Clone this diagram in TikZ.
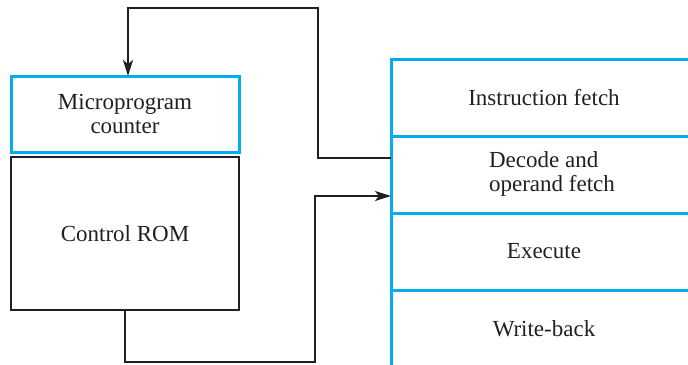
\documentclass[tikz,border=0pt]{standalone}
\usepackage{fontspec}
\setmainfont{Liberation Serif}
\usepackage{xcolor}
\usetikzlibrary{arrows.meta, positioning, calc}
\definecolor{stageblue}{HTML}{00AEEF}
\definecolor{inkblack}{HTML}{231F20}
\tikzstyle{ctrlbox} = [draw=inkblack, rectangle, line width=1.1pt, outer sep=0pt, inner sep=0pt, minimum width=114pt, text centered, align=center, text=inkblack, font=\fontsize{11.5}{12}\selectfont]
\tikzstyle{counterbox} = [ctrlbox, draw=stageblue, line width=1.5pt]
\tikzstyle{stagebox} = [draw=stageblue, rectangle, line width=1.5pt, outer sep=0pt, inner sep=0pt, minimum width=153pt, minimum height=38.5pt, align=center, text=inkblack, font=\fontsize{11.5}{12}\selectfont]
\tikzstyle{arrw} = [line width=1.1pt, color=inkblack, -{Stealth[length=8pt, width=5pt, inset=2pt]}]

\begin{document}
\begin{tikzpicture}[x=0.5pt, y=-0.5pt]
    \useasboundingbox (0,0) rectangle (688,364);
    \clip (0,0) rectangle (688,364);

    % Control unit
    \node (counter) [counterbox, minimum height=38pt] at (125,114) {Microprogram\\counter};
    \node (rom) [ctrlbox, minimum height=76.5pt, below=2.5pt of counter] {Control ROM};

    % Pipeline stages
    \node (fetch) [stagebox, minimum height=38.5pt] at (544,97.5) {Instruction fetch};
    \node (decode) [stagebox, below=0pt of fetch] {\hspace*{8pt}\begin{tabular}{@{}l@{}}Decode and\\operand fetch\end{tabular}};
    \node (exec) [stagebox, below=0pt of decode] {Execute};
    \node (wback) [stagebox, below=0pt of exec] {Write-back};

    % Wires
    \coordinate (topturn) at (318,8);
    \coordinate (botturn) at (315,362);
    \draw [arrw] ([yshift=8.25pt]decode.west) -| (topturn) -| ([xshift=1.5pt]counter.north);
    \draw [arrw] (rom.south) |- (botturn) |- ([yshift=-10.75pt]decode.west);
\end{tikzpicture}
\end{document}
